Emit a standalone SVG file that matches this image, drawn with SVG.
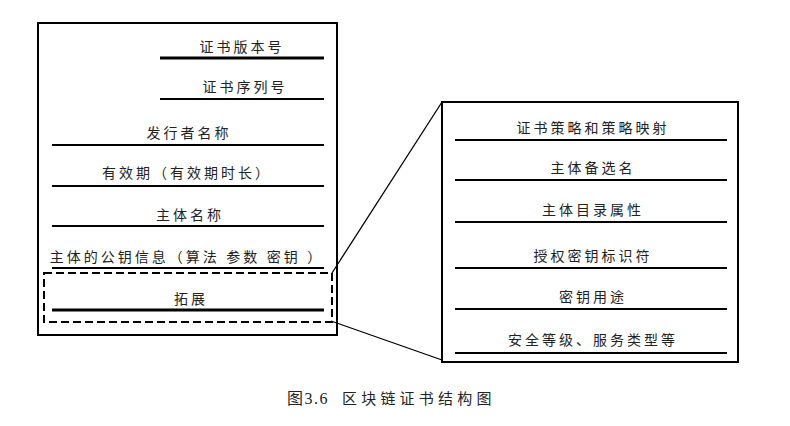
<svg xmlns="http://www.w3.org/2000/svg" width="790" height="426" viewBox="0 0 790 426">
<style>
.box{fill:#fff;stroke:#000;stroke-width:2}
.ln{stroke:#000;stroke-width:2}
.thick{stroke:#000;stroke-width:3}
.t{font-family:"Liberation Serif","Noto Sans CJK SC",serif;font-size:14px;letter-spacing:3px;fill:#222;text-anchor:middle}
.cap{font-family:"Liberation Serif","Noto Sans CJK SC",serif;font-size:15px;fill:#222}
.conn{stroke:#000;stroke-width:1.3;fill:none}
.dash{fill:none;stroke:#000;stroke-width:2;stroke-dasharray:8 4}
</style>
<rect width="790" height="426" fill="#fff"/>
<g id="cert">
<rect class="box" x="38" y="23" width="299" height="312"/>
<text class="t" x="242" y="52">证书版本号</text>
<line class="thick" x1="160" y1="58" x2="324" y2="58"/>
<text class="t" x="245" y="92">证书序列号</text>
<line class="ln" x1="160" y1="99" x2="324" y2="99"/>
<text class="t" x="189" y="138">发行者名称</text>
<line class="ln" x1="52" y1="145" x2="324" y2="145"/>
<text class="t" x="187" y="178">有效期（有效期时长）</text>
<line class="ln" x1="52" y1="186" x2="324" y2="186"/>
<text class="t" x="190" y="220">主体名称</text>
<line class="ln" x1="52" y1="226" x2="324" y2="226"/>
<text class="t" x="187" y="262">主体的公钥信息（算法 参数 密钥 ）</text>
<line class="ln" x1="52" y1="268" x2="324" y2="268"/>
<text class="t" x="191" y="304">拓展</text>
<line class="thick" x1="52" y1="310" x2="324" y2="310"/>
</g>
<g id="ext-highlight">
<rect class="dash" x="44" y="273" width="288" height="49"/>
</g>
<g id="ext">
<rect class="box" x="442" y="102" width="296" height="260"/>
<text class="t" x="593" y="133">证书策略和策略映射</text>
<line class="ln" x1="455" y1="140" x2="727" y2="140"/>
<text class="t" x="593" y="173">主体备选名</text>
<line class="ln" x1="455" y1="180" x2="727" y2="180"/>
<text class="t" x="593" y="215">主体目录属性</text>
<line class="ln" x1="455" y1="222" x2="727" y2="222"/>
<text class="t" x="593" y="261">授权密钥标识符</text>
<line class="ln" x1="455" y1="268" x2="727" y2="268"/>
<text class="t" x="593" y="302">密钥用途</text>
<line class="ln" x1="455" y1="309" x2="727" y2="309"/>
<text class="t" x="593" y="345">安全等级、服务类型等</text>
<line class="ln" x1="455" y1="353" x2="727" y2="353"/>
</g>
<g id="connectors">
<line class="conn" x1="332" y1="273" x2="442" y2="102"/>
<line class="conn" x1="331" y1="321" x2="442" y2="360"/>
</g>
<g id="caption">
<text class="cap" x="287" y="404"><tspan font-size="16" letter-spacing="1.5">图3.6</tspan><tspan x="342" letter-spacing="4.2">区块链证书结构图</tspan></text>
</g>
</svg>
